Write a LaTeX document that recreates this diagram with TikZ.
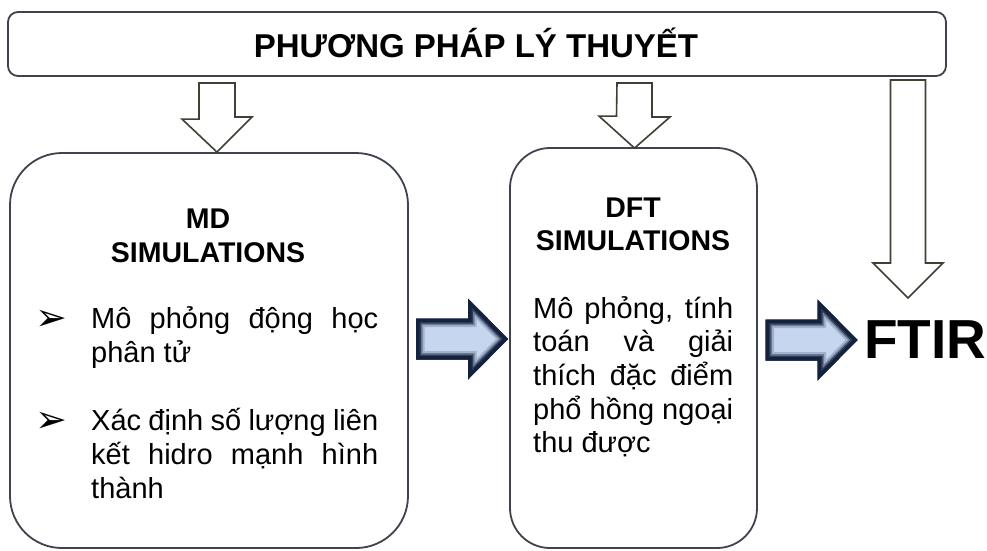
\documentclass[tikz,border=0pt]{standalone}
\usepackage{fontspec}
\setmainfont{Liberation Sans}
\newfontfamily\dejavu{DejaVu Sans}
\definecolor{boxline}{HTML}{3E434D}
\definecolor{hollowline}{HTML}{3B4233}
\definecolor{navyarrow}{HTML}{15223E}
\definecolor{lightarrow}{HTML}{C6D6EE}
\begin{document}
\begin{tikzpicture}[x=1pt,y=-1pt,
  panel/.style={draw=boxline, line width=1.8pt, fill=white, inner sep=0pt},
  hollow/.style={draw=hollowline, line width=1.6pt, fill=white, line join=miter},
  headtext/.style={font=\fontsize{28.5}{34}\selectfont\bfseries, align=center, inner sep=0pt},
  bodytext/.style={inner sep=0pt, anchor=base west},
  bulletmark/.style={inner sep=0pt, anchor=base, font=\dejavu\fontsize{38}{38}\selectfont},
  bluepath/.style={insert path={++(0,-20.5) -- ++(52,0) -- ++(0,-20) -- ++(40,40.5) -- ++(-40,40.5) -- ++(0,-20) -- ++(-52,0) -- cycle}}
]
\useasboundingbox (0,0) rectangle (987,550);
\fill[white] (0,0) rectangle (987,550);

% panels
\node[panel, rounded corners=10pt, minimum width=938pt, minimum height=64pt] (title) at (477,44) {};
\node[inner sep=0pt, anchor=base] (titletext) at (476,57) {\fontsize{33}{36}\selectfont\bfseries PHƯƠNG PHÁP LÝ THUYẾT};

\node[panel, rounded corners=52pt, minimum width=398pt, minimum height=395pt] (md) at (209,350.5) {};
\node[panel, rounded corners=40pt, minimum width=247pt, minimum height=400pt] (dft) at (633.5,348) {};

% hollow arrows
\coordinate (h1) at (217,83);
\coordinate (h2) at (634.5,83);
\coordinate (h3) at (908,80);
\draw[hollow] (h1) ++(-18,0) -- ++(36,0) -- ++(0,34) -- ++(17,0) -- (md.north -| h1) -- ++(-35,-33) -- ++(17,0) -- cycle;
\draw[hollow] (h2) ++(-17.5,0) -- ++(35,0) -- ++(0,34) -- ++(18,0) -- ([yshift=-1pt]dft.north -| h2) -- ++(-35.5,-32) -- ++(17.5,0) -- cycle;
\draw[hollow] (h3) ++(-17.5,0) -- ++(35,0) -- ++(0,183) -- ++(17.5,0) -- ++(-35,35) coordinate (h3tip) -- ++(-35,-35) -- ++(17.5,0) -- cycle;

% blue block arrows
\coordinate (b1s) at (416,339);
\coordinate (b2s) at (765.5,340);
\foreach \s in {b1s,b2s}{
  \begin{scope}
    \clip (\s) [bluepath];
    \fill[lightarrow] (\s) [bluepath];
    \draw[line width=17pt, lightarrow!80!navyarrow] (\s) [bluepath];
    \draw[line width=13pt, lightarrow!50!navyarrow] (\s) [bluepath];
    \draw[line width=10pt, lightarrow!15!navyarrow] (\s) [bluepath];
    \draw[line width=7pt, navyarrow] (\s) [bluepath];
  \end{scope}
}

% headings
\node[headtext, anchor=base] (mdh1) at (208,228) {MD};
\node[headtext, anchor=base] (mdh2) at (208,262) {SIMULATIONS};
\node[headtext, anchor=base] (dfth1) at (633,217) {DFT};
\node[headtext, anchor=base] (dfth2) at (633,250) {SIMULATIONS};

% MD bullets
\node[bulletmark] (bul1) at (51,330) {➢};
\node[bulletmark] (bul2) at (51,432) {➢};
\node[bodytext] (mdp1) at (91,328) {\parbox[t]{287pt}{\fontsize{29}{34}\selectfont
  \makebox[287pt][s]{Mô phỏng động học}\\phân tử}};
\node[bodytext] (mdp2) at (91,430) {\parbox[t]{287pt}{\fontsize{29}{34}\selectfont
  \makebox[287pt][s]{Xác định số lượng liên}\\\makebox[287pt][s]{kết hidro mạnh hình}\\thành}};

% DFT body
\node[bodytext] (dftp) at (533,318) {\parbox[t]{200pt}{\fontsize{29}{33.7}\selectfont
  \makebox[200pt][s]{Mô phỏng, tính}\\\makebox[200pt][s]{toán và giải}\\\makebox[200pt][s]{thích đặc điểm}\\\makebox[200pt][s]{phổ hồng ngoại}\\thu được}};

% FTIR
\node[inner sep=0pt, anchor=base west] (ftir) at (864,358) {\fontsize{55}{60}\selectfont\bfseries FTIR};
\end{tikzpicture}
\end{document}
